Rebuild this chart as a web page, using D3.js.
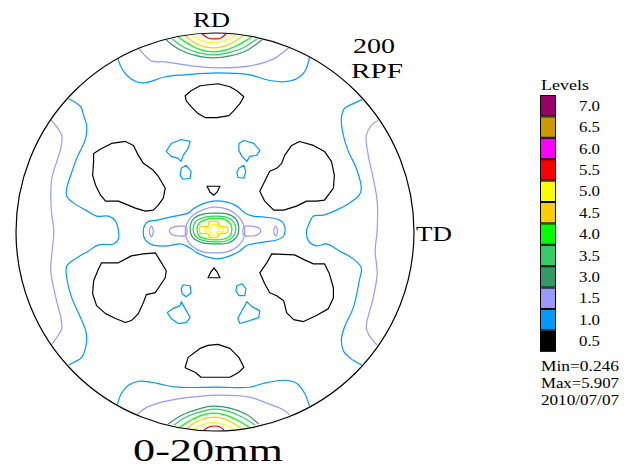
<!DOCTYPE html>
<html>
<head>
<meta charset="utf-8">
<script src="https://cdn.jsdelivr.net/npm/d3@7"></script>
<style>
  body { margin: 0; background: #fff; }
  text { font-family: "Liberation Serif", "Times New Roman", serif; fill: #000; }
</style>
</head>
<body>
<script>
// contour levels shown in the legend (top to bottom)
const levels = [7.0, 6.5, 6.0, 5.5, 5.0, 4.5, 4.0, 3.5, 3.0, 1.5, 1.0, 0.5];
const levelColors = ["#990066", "#cc9900", "#ff00ff", "#ff0000", "#ffff00", "#ffcc00",
                     "#00ff00", "#33cc66", "#339966", "#9999ff", "#0099ff", "#000000"];
const minValue = 0.246;
const maxValue = 5.907;
const runDate = "2010/07/07";

// pole figure coordinates, circle radius = 200, RD up, TD right
// open lines that run from rim to rim
const rimBands = [
    [1.5, [[-77,185],[-64,172],[-50,171],[-24,167],[2,165],[35,167],[59,174],[69,181],[75,186]]],
    [1.0, [[-98,176],[-95,167],[-90,159],[-79,151],[-70,150],[-50,156],[-30,158],[2,160],[35,158],[52,153],[69,151],[82,154],[90,161],[94,171],[95,176]]],
    [1.0, [[-147,134],[-135,126],[-132,117],[-129,107],[-130,94],[-139,74],[-145,57],[-149,44],[-149,36],[-142,29],[-130,22],[-119,16],[-107,16],[-100,11],[-97,1],[-97,-7],[-102,-12],[-117,-13],[-127,-19],[-139,-26],[-149,-34],[-149,-46],[-144,-66],[-137,-82],[-130,-99],[-129,-109],[-134,-126],[-142,-131],[-147,-134]]],
    [1.5, [[-166,114],[-160,107],[-154,97],[-155,84],[-159,71],[-164,54],[-165,37],[-164,17],[-162,1],[-165,-39],[-160,-66],[-155,-86],[-154,-97],[-159,-106],[-165,-114]]],
    [1.0, [[-98,-173],[-94,-162],[-87,-154],[-77,-150],[-64,-151],[-50,-154],[-37,-156],[3,-156],[35,-156],[49,-152],[69,-149],[82,-152],[90,-162],[95,-175]]],
    [1.5, [[-79,-184],[-70,-177],[-57,-172],[-44,-169],[-24,-166],[3,-164],[35,-166],[52,-172],[69,-179],[75,-184]]],
    [1.0, [[148,133],[139,129],[130,124],[127,114],[129,97],[134,81],[142,64],[147,44],[145,37],[135,29],[122,22],[109,17],[99,16],[94,7],[92,1],[94,-9],[102,-14],[112,-12],[125,-19],[139,-27],[147,-36],[145,-49],[139,-76],[130,-96],[127,-109],[130,-121],[139,-129],[148,-134]]],
    [1.5, [[164,112],[157,107],[152,97],[154,77],[159,54],[163,31],[163,2],[161,-19],[163,-42],[159,-66],[152,-96],[155,-104],[163,-114]]]
];

// RD peaks at the rim (top and bottom)
const rdPeakTop = [
    [3.0, [[-49,193],[-35,183],[-18,177],[-2,175],[15,177],[33,183],[47,193]]],
    [3.5, [[-43,194],[-30,185],[-16,180],[-2,178],[13,180],[28,185],[42,194]]],
    [4.0, [[-37,196],[-25,188],[-14,183],[-2,181],[11,183],[23,188],[37,196]]],
    [4.5, [[-30,197],[-20,190],[-10,186],[-2,185],[7,186],[17,190],[28,197]]],
    [5.0, [[-23,198],[-15,193],[-2,190],[11,193],[21,198]]],
    [5.5, [[-13,199],[-7,195],[-1,194],[6,195],[11,199]]]
];
const rdPeakBottom = [
    [3.0, [[-47,-193],[-33,-184],[-17,-178],[-2,-175],[15,-177],[31,-183],[44,-193]]],
    [3.5, [[-41,-194],[-29,-186],[-15,-181],[-2,-178],[13,-180],[27,-186],[40,-194]]],
    [4.0, [[-35,-196],[-24,-189],[-13,-184],[-2,-182],[11,-184],[22,-189],[34,-196]]],
    [4.5, [[-28,-197],[-19,-191],[-9,-187],[-2,-186],[7,-187],[16,-191],[26,-197]]],
    [5.0, [[-21,-198],[-14,-194],[-2,-191],[10,-194],[19,-198]]],
    [5.5, [[-11,-199],[-6,-196],[0,-195],[5,-196],[9,-199]]]
];

// centre peak (closed)
const centrePeak = [
    [1.0, [[-72,2],[-68,10],[-58,12],[-45,15],[-35,17],[-27,19],[-22,23],[-13,28],[-2,31],[12,30],[22,26],[30,19],[38,16],[50,15],[65,12],[70,6],[69,-4],[62,-8],[50,-10],[38,-12],[31,-14],[25,-19],[15,-24],[2,-27],[-8,-25],[-18,-21],[-25,-16],[-35,-12],[-48,-14],[-63,-13],[-70,-8]]],
    [1.5, [[-2,25],[-13,22],[-22,17],[-28,9],[-30,0],[-28,-8],[-22,-15],[-12,-20],[0,-21],[12,-20],[22,-15],[28,-8],[30,0],[28,9],[22,17],[12,23]]],
    [1.5, [[-29,5],[-37,6],[-44,4],[-46,1],[-44,-2],[-37,-4],[-29,-3]]],
    [1.5, [[29,5],[37,6],[44,4],[46,1],[44,-2],[37,-4],[29,-3]]],
    [1.5, [[-64,6],[-62,1],[-64,-5],[-66,1]]],
    [1.5, [[61,6],[63,1],[61,-4],[59,1]]],
    [3.0, [[-25,4],[-22,13],[-12,18],[0,19],[13,18],[21,13],[24,4],[21,-6],[13,-11],[0,-12],[-12,-11],[-22,-6]]],
    [3.5, [[-22,3],[-19,11],[-10,15],[0,16],[11,15],[18,11],[21,3],[18,-5],[11,-9],[0,-10],[-10,-9],[-19,-5]]],
    [4.0, [[-18,3],[-16,9],[-8,13],[0,14],[9,13],[15,9],[17,3],[15,-4],[9,-7],[0,-8],[-8,-7],[-16,-4]]],
    [4.5, [[-15,5],[-7,6],[-6,10],[-2,11],[3,10],[4,6],[12,5],[13,2],[12,-1],[4,-2],[3,-5],[-2,-6],[-6,-5],[-7,-2],[-15,-1],[-16,2]]],
    [5.0, [[-10,4],[-4,4],[-4,7],[-1,8],[2,7],[2,4],[8,4],[9,2],[8,0],[2,0],[2,-3],[-1,-4],[-4,-3],[-4,0],[-10,0],[-11,2]]]
];

// low-intensity holes (0.5) and small 1.0 islands (closed)
const lowBlobs = [
    [0.5, [[-30,137],[-24,142],[-15,147],[3,149],[15,146],[22,142],[29,136],[25,129],[19,122],[14,117],[2,115],[-10,115],[-17,119],[-24,126],[-29,132]]],
    [0.5, [[-30,-136],[-27,-126],[-15,-117],[-7,-114],[3,-113],[15,-117],[24,-126],[29,-136],[24,-141],[15,-146],[2,-146],[-14,-146],[-20,-141],[-29,-137]]],
    [0.5, [[-122,79],[-114,84],[-104,89],[-90,91],[-82,87],[-77,77],[-72,69],[-62,62],[-57,56],[-50,44],[-52,34],[-57,27],[-62,22],[-70,21],[-80,24],[-97,31],[-110,31],[-115,37],[-120,47],[-123,57],[-122,71]]],
    [0.5, [[45,41],[55,61],[62,64],[67,69],[70,77],[77,87],[85,91],[99,87],[110,81],[117,71],[120,57],[119,44],[110,32],[102,31],[92,31],[82,26],[69,22],[59,22],[50,31]]],
    [0.5, [[-114,-31],[-97,-31],[-84,-24],[-72,-22],[-60,-21],[-55,-29],[-49,-39],[-50,-46],[-54,-52],[-60,-61],[-69,-63],[-72,-71],[-77,-82],[-84,-89],[-90,-91],[-100,-87],[-110,-82],[-119,-74],[-123,-62],[-122,-49],[-117,-37]]],
    [0.5, [[45,-41],[52,-31],[57,-22],[80,-23],[90,-28],[99,-32],[110,-32],[115,-42],[119,-56],[119,-66],[114,-77],[102,-84],[89,-90],[79,-88],[72,-81],[69,-69],[62,-64],[55,-61],[50,-52]]],
    [0.5, [[-8,46],[5,46],[2,40],[-1,37],[-5,40]]],
    [0.5, [[-7,-46],[5,-46],[2,-40],[-1,-36],[-4,-40]]],
    [1.0, [[-49,81],[-44,89],[-34,93],[-25,91],[-27,84],[-32,77],[-34,71],[-37,74],[-44,76]]],
    [1.0, [[-34,64],[-29,67],[-24,61],[-25,54],[-32,53],[-35,57]]],
    [1.0, [[24,89],[29,92],[39,89],[45,82],[42,77],[35,76],[32,71],[27,76],[24,82]]],
    [1.0, [[24,64],[29,67],[31,61],[29,54],[23,55],[22,60]]],
    [1.0, [[-34,-57],[-32,-53],[-25,-54],[-24,-61],[-29,-65],[-33,-62]]],
    [1.0, [[-34,-70],[-30,-77],[-25,-86],[-29,-91],[-37,-92],[-44,-87],[-48,-81],[-42,-77],[-35,-74]]],
    [1.0, [[22,-54],[27,-52],[31,-57],[30,-64],[24,-64],[21,-59]]],
    [1.0, [[32,-70],[37,-75],[45,-79],[44,-86],[35,-89],[25,-92],[23,-87],[27,-79],[30,-74]]]
];

const width = 627;
const height = 469;
const cx = 215, cy = 232, r = 199;

const xScale = d3.scaleLinear().domain([-200, 200]).range([cx - r, cx + r]);
const yScale = d3.scaleLinear().domain([-200, 200]).range([cy + r, cy - r]);
const color = d3.scaleOrdinal().domain(levels).range(levelColors);

const svg = d3.select("body")
    .append("svg")
    .attr("width", width)
    .attr("height", height);

svg.append("clipPath")
    .attr("id", "pf-clip")
    .append("circle")
    .attr("cx", xScale(0))
    .attr("cy", yScale(0))
    .attr("r", xScale(200) - xScale(0));

const plot = svg.append("g").attr("clip-path", "url(#pf-clip)");

const smoothOpen = d3.line().x(d => xScale(d[0])).y(d => yScale(d[1])).curve(d3.curveCatmullRom.alpha(0.5));
const smoothClosed = d3.line().x(d => xScale(d[0])).y(d => yScale(d[1])).curve(d3.curveCatmullRomClosed.alpha(0.5));
const rough = d3.line().x(d => xScale(d[0])).y(d => yScale(d[1])).curve(d3.curveLinearClosed);

const drawSet = (data, gen, cls) => {
    plot.selectAll(`path.${cls}`)
        .data(data)
        .enter()
        .append("path")
        .attr("class", cls)
        .attr("d", d => gen(d[1]))
        .attr("fill", "none")
        .attr("stroke", d => color(d[0]))
        .attr("stroke-width", 1.2)
        .attr("stroke-linejoin", "round");
};

drawSet(rimBands, smoothOpen, "band");
drawSet(rdPeakTop, smoothOpen, "peak-top");
drawSet(rdPeakBottom, smoothOpen, "peak-bottom");
drawSet(centrePeak, smoothClosed, "peak-centre");
drawSet(lowBlobs, rough, "blob");

// outer circle
svg.append("circle")
    .attr("cx", xScale(0))
    .attr("cy", yScale(0))
    .attr("r", xScale(200) - xScale(0))
    .attr("fill", "none")
    .attr("stroke", "#000")
    .attr("stroke-width", 1.2);

// axis labels
const label = (txt, x, y, size, len) => svg.append("text")
    .attr("x", x).attr("y", y)
    .style("font-size", size + "px")
    .attr("textLength", len)
    .attr("lengthAdjust", "spacingAndGlyphs")
    .text(txt);

label("RD", 193, 27, 21, 37);
label("200", 353, 53, 21, 42);
label("RPF", 351, 78, 21, 52);
label("TD", 416, 241, 21, 36);
label("0-20mm", 133, 461, 32, 150);

// legend
const legend = svg.append("g").attr("id", "legend");
const boxH = 21.4;
const legendY = d3.scaleBand().domain(levels).range([95, 95 + boxH * levels.length]);

legend.append("text").attr("x", 541).attr("y", 90).style("font-size", "15px")
    .attr("textLength", 48).attr("lengthAdjust", "spacingAndGlyphs").text("Levels");

legend.selectAll("rect")
    .data(levels)
    .enter()
    .append("rect")
    .attr("x", 540.5)
    .attr("y", d => legendY(d) + 0.5)
    .attr("width", 15)
    .attr("height", legendY.bandwidth() - 1)
    .attr("fill", d => color(d))
    .attr("stroke", "#000")
    .attr("stroke-width", 1);

legend.selectAll("text.lv")
    .data(levels)
    .enter()
    .append("text")
    .attr("class", "lv")
    .attr("x", 579)
    .attr("y", d => legendY(d) + legendY.bandwidth() / 2 + 5)
    .style("font-size", "15px")
    .attr("textLength", 21)
    .attr("lengthAdjust", "spacingAndGlyphs")
    .text(d => d.toFixed(1));

const info = [`Min=${minValue.toFixed(3)}`, `Max=${maxValue.toFixed(3)}`, runDate];
legend.selectAll("text.info")
    .data(info)
    .enter()
    .append("text")
    .attr("class", "info")
    .attr("x", 541)
    .attr("y", (d, i) => 371 + i * 17)
    .style("font-size", "14px")
    .attr("textLength", 78)
    .attr("lengthAdjust", "spacingAndGlyphs")
    .text(d => d);
</script>
</body>
</html>
